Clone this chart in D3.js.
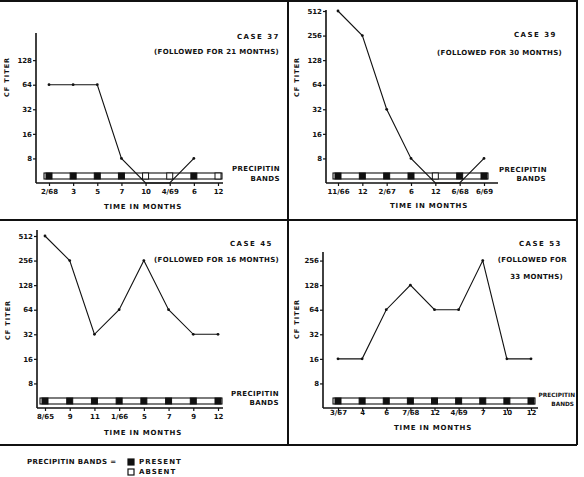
<!DOCTYPE html>
<html>
<head>
<meta charset="utf-8">
<script src="https://cdn.jsdelivr.net/npm/d3@7"></script>
<style>
  body { margin: 0; background: #fff; }
  text { font-family: "DejaVu Sans", sans-serif; font-weight: bold; fill: #111; }
</style>
</head>
<body>
<div id="chart"></div>
<script>
// ---- data (titer 4 = below 8, plotted on the axis) ----
const case37Months = ["2/68", "3", "5", "7", "10", "4/69", "6", "12"];
const case37Titer  = [64, 64, 64, 8, 4, 4, 8, null];
const case37Bands  = [1, 1, 1, 1, 0, 0, 1, 0];

const case39Months = ["11/66", "12", "2/67", "6", "12", "6/68", "6/69"];
const case39Titer  = [512, 256, 32, 8, 4, 4, 8];
const case39Bands  = [1, 1, 1, 1, 0, 1, 1];

const case45Months = ["8/65", "9", "11", "1/66", "5", "7", "9", "12"];
const case45Titer  = [512, 256, 32, 64, 256, 64, 32, 32];
const case45Bands  = [1, 1, 1, 1, 1, 1, 1, 1];

const case53Months = ["3/67", "4", "6", "7/68", "12", "4/69", "7", "10", "12"];
const case53Titer  = [16, 16, 64, 128, 64, 64, 256, 16, 16];
const case53Bands  = [1, 1, 1, 1, 1, 1, 1, 1, 1];

const titerTicksTop = [8, 16, 32, 64, 128, 256, 512];

// ---- layout of each panel ----
const panels = [
  { months: case37Months, titer: case37Titer, bands: case37Bands, ticks: [8, 16, 32, 64, 128],
    axisX: 36, axisTop: 33, base: 183, x0: 49, x1: 218, xEnd: 223, tickLabelY: 192,
    titles: [["CASE 37", 280, 37], ["(FOLLOWED FOR 21 MONTHS)", 279, 52]],
    precip: [280, 169, 280, 179, "end", 7], time: [143, 207], cf: [7, 77] },
  { months: case39Months, titer: case39Titer, bands: case39Bands, ticks: titerTicksTop,
    axisX: 326, axisTop: 10, base: 183, x0: 338, x1: 484, xEnd: 498, tickLabelY: 192,
    titles: [["CASE 39", 557, 35], ["(FOLLOWED FOR 30 MONTHS)", 562, 53]],
    precip: [547, 170, 546, 179, "end", 7], time: [429, 206], cf: [297, 77] },
  { months: case45Months, titer: case45Titer, bands: case45Bands, ticks: titerTicksTop,
    axisX: 37, axisTop: 230, base: 408, x0: 45, x1: 218, xEnd: 223, tickLabelY: 417,
    titles: [["CASE 45", 273, 244], ["(FOLLOWED FOR 16 MONTHS)", 279, 260]],
    precip: [279, 394, 279, 403, "end", 7], time: [143, 433], cf: [8, 320] },
  { months: case53Months, titer: case53Titer, bands: case53Bands, ticks: [8, 16, 32, 64, 128, 256],
    axisX: 323, axisTop: 252, base: 408, x0: 338, x1: 531, xEnd: 538, tickLabelY: 413,
    titles: [["CASE 53", 562, 244], ["(FOLLOWED FOR", 567, 260], ["33 MONTHS)", 563, 277]],
    precip: [575, 395, 574, 404, "end", 5.8], time: [433, 428], cf: [297, 319] }
];

const svg = d3.select("#chart").append("svg")
  .attr("width", 584).attr("height", 477);

panels.forEach(p => {
  const g = svg.append("g");
  const n = p.months.length;

  const y = d3.scaleLog().base(2).domain([4, 512]).range([p.base, p.base - 172]);
  const x = d3.scaleLinear().domain([0, n - 1]).range([p.x0, p.x1]);

  // y axis
  const ya = g.append("g")
    .attr("transform", `translate(${p.axisX},0)`)
    .call(d3.axisLeft(y).tickValues(p.ticks).tickSize(3).tickFormat(d3.format("d")));
  ya.select(".domain").remove();
  ya.selectAll("line").attr("stroke", "#111").attr("stroke-width", 1.2);
  ya.selectAll("text").attr("font-size", 7).attr("font-family", "DejaVu Sans")
    .attr("font-weight", "bold").attr("x", -4).attr("fill", "#111");
  g.append("line").attr("x1", p.axisX).attr("x2", p.axisX)
    .attr("y1", p.axisTop).attr("y2", p.base)
    .attr("stroke", "#111").attr("stroke-width", 1.6);

  // x axis
  const xa = g.append("g")
    .attr("transform", `translate(0,${p.base})`)
    .call(d3.axisBottom(x).tickValues(d3.range(n)).tickSize(3)
      .tickFormat(i => p.months[i]));
  xa.select(".domain").remove();
  xa.selectAll("line").attr("stroke", "#111").attr("stroke-width", 1.2);
  xa.selectAll("text").attr("font-size", 7).attr("font-family", "DejaVu Sans")
    .attr("font-weight", "bold").attr("fill", "#111")
    .attr("y", p.tickLabelY - p.base).attr("dy", "0.35em");
  g.append("line").attr("x1", p.axisX).attr("x2", p.xEnd)
    .attr("y1", p.base).attr("y2", p.base)
    .attr("stroke", "#111").attr("stroke-width", 1.6);

  // precipitin band strip
  const by = p.base - 10;
  g.append("rect")
    .attr("x", x(0) - 5).attr("y", by)
    .attr("width", x(n - 1) - x(0) + 9).attr("height", 6)
    .attr("fill", "#fff").attr("stroke", "#111").attr("stroke-width", 1.1);
  g.selectAll(".band").data(p.bands).join("rect")
    .attr("x", (d, i) => x(i) - 3).attr("y", by)
    .attr("width", 6).attr("height", 6)
    .attr("fill", d => d ? "#111" : "#fff")
    .attr("stroke", "#111").attr("stroke-width", 1);

  // titer line
  const pts = p.titer.map((v, i) => [i, v]).filter(d => d[1] != null);
  g.append("path").datum(pts)
    .attr("fill", "none").attr("stroke", "#111").attr("stroke-width", 1.1)
    .attr("d", d3.line().x(d => x(d[0])).y(d => y(d[1])));
  g.selectAll(".pt").data(pts.filter(d => d[1] > 4)).join("circle")
    .attr("cx", d => x(d[0])).attr("cy", d => y(d[1])).attr("r", 1.4)
    .attr("fill", "#111");

  // texts
  p.titles.forEach(t => {
    g.append("text").attr("x", t[1]).attr("y", t[2]).attr("dy", "0.35em")
      .attr("text-anchor", "end").attr("font-size", 7)
      .attr("letter-spacing", t[0].startsWith("CASE") ? 1.5 : 0.3).text(t[0]);
  });
  const ls = p.precip[5] < 7 ? 0 : 0.4;
  g.append("text").attr("x", p.precip[0]).attr("y", p.precip[1]).attr("dy", "0.35em")
    .attr("text-anchor", p.precip[4]).attr("font-size", p.precip[5]).attr("letter-spacing", ls)
    .text("PRECIPITIN");
  g.append("text").attr("x", p.precip[2]).attr("y", p.precip[3]).attr("dy", "0.35em")
    .attr("text-anchor", p.precip[4]).attr("font-size", p.precip[5]).attr("letter-spacing", ls)
    .text("BANDS");
  g.append("text").attr("x", p.time[0]).attr("y", p.time[1]).attr("dy", "0.35em")
    .attr("text-anchor", "middle").attr("font-size", 7).attr("letter-spacing", 0.8)
    .text("TIME  IN  MONTHS");
  g.append("text")
    .attr("transform", `translate(${p.cf[0]},${p.cf[1]}) rotate(-90)`)
    .attr("dy", "0.35em").attr("text-anchor", "middle")
    .attr("font-size", 6.5).attr("letter-spacing", 1).text("CF TITER");
});

// frame
const frame = [
  [0, 1, 577, 1], [288, 0, 288, 445], [0, 220, 577, 220],
  [577, 0, 577, 445], [0, 445, 577, 445]
];
svg.selectAll(".frame").data(frame).join("line")
  .attr("x1", d => d[0]).attr("y1", d => d[1]).attr("x2", d => d[2]).attr("y2", d => d[3])
  .attr("stroke", "#111").attr("stroke-width", 2);

// legend
const legend = svg.append("g");
legend.append("text").attr("x", 27).attr("y", 462).attr("dy", "0.35em")
  .attr("font-size", 7).attr("letter-spacing", 0.4).text("PRECIPITIN BANDS =");
[["PRESENT", 1, 462], ["ABSENT", 0, 472]].forEach(l => {
  legend.append("rect").attr("x", 128).attr("y", l[2] - 3).attr("width", 6).attr("height", 6)
    .attr("fill", l[1] ? "#111" : "#fff").attr("stroke", "#111").attr("stroke-width", 1.2);
  legend.append("text").attr("x", 139).attr("y", l[2]).attr("dy", "0.35em")
    .attr("font-size", 7).attr("letter-spacing", 1).text(l[0]);
});
</script>
</body>
</html>
